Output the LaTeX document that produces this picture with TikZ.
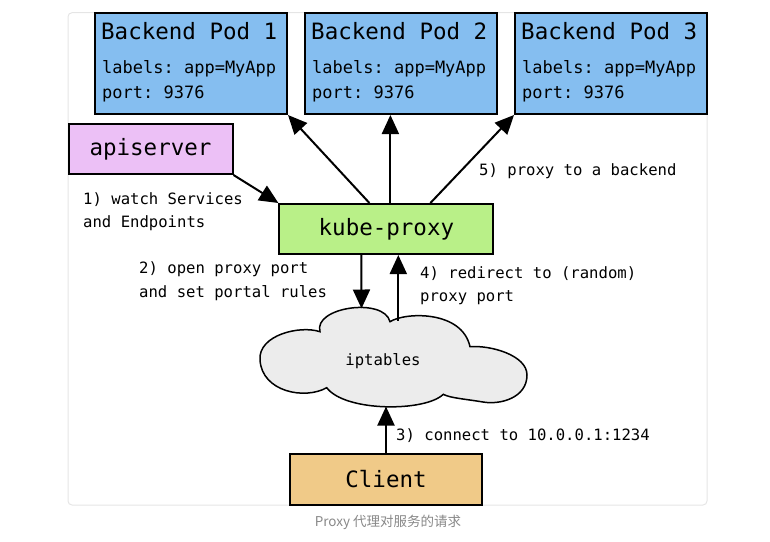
\documentclass[tikz,border=0pt]{standalone}
\usepackage{fontspec}
\setmonofont{DejaVu Sans Mono}
\newfontfamily\cjk{Noto Sans CJK SC}
\usepackage{tikz}
\usetikzlibrary{arrows.meta}

\newcommand{\bigtt}{\ttfamily\fontsize{22.5}{27}\selectfont}
\newcommand{\podtt}{\ttfamily\fontsize{17}{20}\selectfont}
\newcommand{\notett}{\ttfamily\fontsize{15.6}{23.5}\selectfont}

\begin{document}
\begin{tikzpicture}[x=1pt,y=1pt,yscale=-1,xscale=1,
  box/.style={draw, line width=2pt, inner sep=0pt, font=\bigtt},
  pod/.style={box, fill={rgb, 255:red, 133; green, 190; blue, 240 }, minimum width=192, minimum height=101},
  podtitle/.style={anchor=base west, inner sep=0pt, font=\bigtt},
  podline/.style={anchor=base west, inner sep=0pt, font=\podtt},
  note/.style={anchor=base west, inner sep=0pt, align=left, font=\notett},
  arr/.style={line width=2pt, -{Triangle[length=19pt,width=17pt]}}]
\useasboundingbox (0,0) rectangle (770,541);

%Shape: Rounded Rectangle [frame]
\draw [color={rgb, 255:red, 229; green, 229; blue, 229 }, line width=1pt, rounded corners=4] (68,12.7) rectangle (707,505);

%Shape: Rectangle [pods]
\node [pod] (pod1) at (191,63.5) {};
\node [pod] (pod2) at (401,63.5) {};
\node [pod] (pod3) at (611,63.5) {};

% Text Node
\node [podtitle] (pod1name) at ([shift={(7,27)}]pod1.north west) {Backend Pod 1};
\node [podline] (pod1app) at ([shift={(8,61)}]pod1.north west) {labels: app=MyApp};
\node [podline] (pod1port) at ([shift={(8,86)}]pod1.north west) {port: 9376};
% Text Node
\node [podtitle] (pod2name) at ([shift={(7,27)}]pod2.north west) {Backend Pod 2};
\node [podline] (pod2app) at ([shift={(8,61)}]pod2.north west) {labels: app=MyApp};
\node [podline] (pod2port) at ([shift={(8,86)}]pod2.north west) {port: 9376};
% Text Node
\node [podtitle] (pod3name) at ([shift={(7,27)}]pod3.north west) {Backend Pod 3};
\node [podline] (pod3app) at ([shift={(8,61)}]pod3.north west) {labels: app=MyApp};
\node [podline] (pod3port) at ([shift={(8,86)}]pod3.north west) {port: 9376};

%Shape: Rectangle [apiserver, kube-proxy, client]
\node [box, fill={rgb, 255:red, 236; green, 192; blue, 246 }, minimum width=164, minimum height=50] (api) at (150.5,149) {apiserver};
\node [box, fill={rgb, 255:red, 185; green, 240; blue, 136 }, minimum width=214, minimum height=50] (kube) at (386.4,229) {kube-proxy};
\node [box, fill={rgb, 255:red, 240; green, 202; blue, 136 }, minimum width=192, minimum height=51] (client) at (386,479.5) {Client};

%Shape: Cloud [iptables]
\draw [line width=1.5pt, fill={rgb, 255:red, 236; green, 236; blue, 236 }] (326.7,387.7) .. controls (305,400) and (262,392) .. (260,360)
  .. controls (258,335) and (300,325) .. (320,331.7)
  .. controls (313,307) and (384,297) .. (390,321.7)
  .. controls (405,312) and (462,310) .. (470,346.7)
  .. controls (490,345) and (527,355) .. (527,375)
  .. controls (527,398) and (500,405) .. (483,402)
  .. controls (465,399) and (450,398) .. (443.3,394.3)
  .. controls (425,412) and (345,412) .. (326.7,387.7) -- cycle ;
\node [font=\notett, inner sep=0pt] (iptables) at (383,361.5) {iptables};
\coordinate (cloudtop) at (361.5,308.5);
\coordinate (cloudnotch) at (398.3,320.5);
\coordinate (cloudbottom) at (386,406.5);

%Straight Lines [arrows]
\draw [arr] (api.south east) -- (kube.north west);
\draw [arr] ([xshift=-17]kube.north) -- (pod1.south east);
\draw [arr] ([xshift=4]kube.north) -- ([xshift=4]kube.north |- pod2.south);
\draw [arr] ([xshift=44]kube.north) -- (pod3.south west);
\draw [arr] ([xshift=-25]kube.south) -- (cloudtop);
\draw [arr] (cloudnotch) -- (cloudnotch |- kube.south);
\draw [arr] (client.north) -- (cloudbottom);

% Text Node (base is the last line)
\node [note] (watch) at (83,227.5) {1) watch Services\\and Endpoints};
% Text Node
\node [note] (open) at (139,297) {2) open proxy port\\and set portal rules};
% Text Node
\node [note] (connect) at (396,440) {3) connect to 10.0.0.1:1234};
% Text Node
\node [note] (redirect) at (420,301.5) {4) redirect to (random)\\proxy port};
% Text Node
\node [note] (backend) at (479,175) {5) proxy to a backend};

% Text Node
\node [font=\cjk\fontsize{13.5}{16}\selectfont, color={rgb, 255:red, 136; green, 136; blue, 136 }, inner sep=0pt] (caption) at (388,522) {Proxy 代理对服务的请求};

\end{tikzpicture}
\end{document}
